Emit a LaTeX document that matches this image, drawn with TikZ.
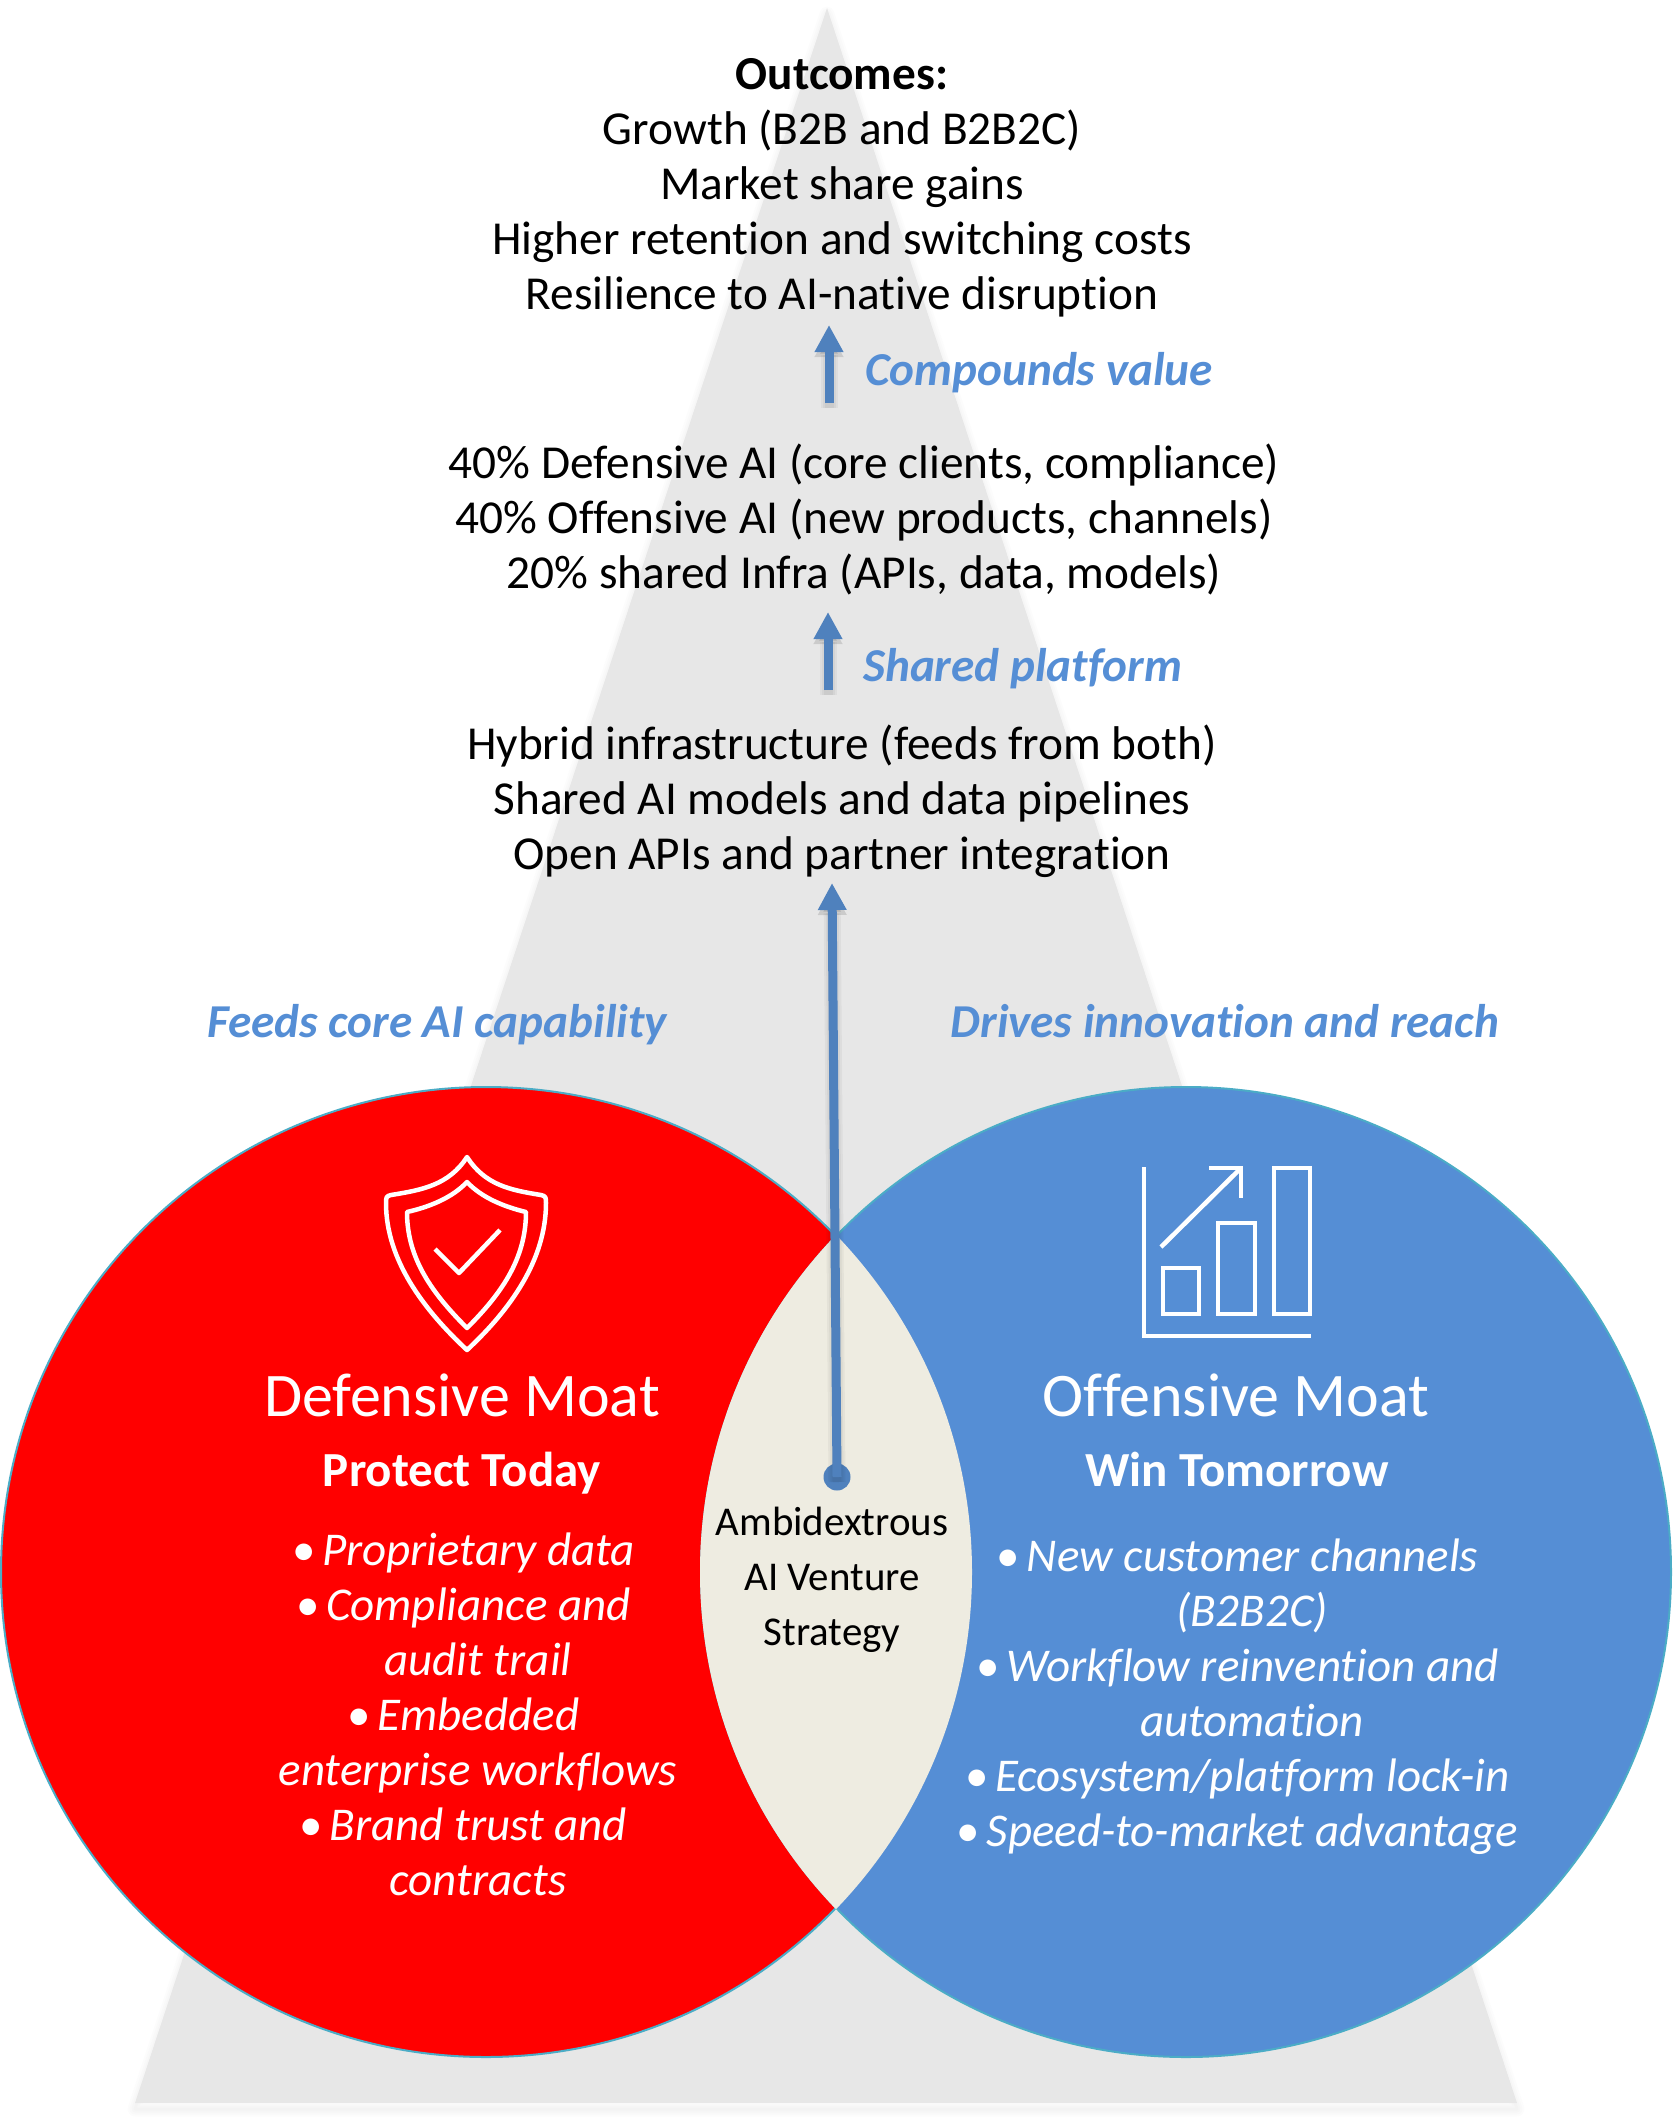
\documentclass[tikz,border=0pt]{standalone}
\usepackage{fontspec}
\setmainfont{Carlito}[Ligatures=NoCommon]
\usetikzlibrary{arrows.meta,calc}
\definecolor{pyr}{HTML}{E7E7E7}
\definecolor{moatblue}{HTML}{558ED5}
\definecolor{lens}{HTML}{EEECE1}
\definecolor{rim}{HTML}{4BACC6}
\definecolor{arrowblue}{HTML}{4F81BD}
\tikzset{
  x=1pt,y=-1pt,
  moat/.style={circle,minimum size=970pt,inner sep=0pt,draw=rim,line width=2pt},
  body/.style={anchor=base,align=center,inner sep=0pt,font=\fontsize{47.3}{55}\selectfont},
  bodysmall/.style={anchor=base,align=center,inner sep=0pt,font=\fontsize{40.9}{55}\selectfont},
  whitebody/.style={body,text=white,font=\fontsize{47}{55}\selectfont\itshape},
  title/.style={anchor=base,inner sep=0pt,text=white,font=\fontsize{62}{62}\selectfont},
  subtitle/.style={anchor=base,inner sep=0pt,text=white,font=\fontsize{49}{55}\selectfont\bfseries},
  note/.style={anchor=base,inner sep=0pt,text=moatblue,font=\fontsize{47.2}{55}\selectfont\bfseries\itshape},
  riser/.style={-{Triangle[length=27pt,width=27pt]},draw=arrowblue,line width=9pt},
  riserglow/.style={-{Triangle[length=27pt,width=27pt]},draw=black,line width=9pt,draw opacity=.04,fill opacity=.04},
  iconline/.style={draw=white,line width=4.5pt,line join=round},
}
\newcommand{\bitem}[1]{\hbox{\makebox[30pt][l]{\normalfont\upshape•}#1\kern29pt}}
\begin{document}
\begin{tikzpicture}
\path[use as bounding box] (0,0) rectangle (1673,2126);
% pyramid with soft edge
\coordinate (apex) at (827,8);
\coordinate (bl) at (135,2103);
\coordinate (br) at (1517,2103);
\foreach \w in {3,7,11,15}{
  \draw[black,opacity=.012,line width=\w pt,line join=round] ([yshift=-6pt]apex) -- ([yshift=-6pt]bl) -- ([yshift=-6pt]br) -- cycle;
}
\fill[pyr] (apex) -- (bl) -- (br) -- cycle;
% circles
\node[moat,fill=red] (left) at (486,1572) {};
\node[moat,fill=moatblue] (right) at (1186,1572) {};
\begin{scope}
  \clip (left.center) circle[radius=486pt];
  \fill[lens] (right.center) circle[radius=486pt];
\end{scope}
% shield icon
\draw[iconline] (467,1157) .. controls (485,1185) and (510,1190) .. (541,1195)
  .. controls (546,1196) and (546,1198) .. (546,1203)
  .. controls (546,1260) and (510,1310) .. (467,1350)
  .. controls (424,1310) and (386,1260) .. (386,1203)
  .. controls (386,1198) and (386,1196) .. (391,1195)
  .. controls (422,1190) and (449,1185) .. (467,1157) -- cycle;
\draw[iconline] (467,1182) .. controls (482,1198) and (505,1207) .. (526,1212)
  .. controls (526,1260) and (500,1295) .. (467,1328)
  .. controls (434,1295) and (407,1260) .. (407,1212)
  .. controls (429,1207) and (452,1198) .. (467,1182) -- cycle;
\draw[iconline] (435,1249) -- (459,1273) -- (500,1230);
% chart icon
\draw[iconline,line join=miter] (1144,1167) -- (1144,1336) -- (1311,1336);
\draw[iconline,line join=miter] (1163,1268) rectangle (1199,1314);
\draw[iconline,line join=miter] (1218,1223) rectangle (1255,1314);
\draw[iconline,line join=miter] (1274,1168) rectangle (1310,1314);
\draw[iconline,line join=miter] (1161,1247) -- (1241,1168);
\draw[iconline,line join=miter] (1209,1168) -- (1241,1168) -- (1241,1198);
% top text
\node[body] (outcomes) at (842,309) {\textbf{Outcomes:}\\Growth (B2B and B2B2C)\\Market share gains\\Higher retention and switching costs\\Resilience to AI-native disruption};
\node[body] (mix) at (864,588) {40\% Defensive AI (core clients, compliance)\\40\% Offensive AI (new products, channels)\\20\% shared Infra (APIs, data, models)};
\node[body] (infra) at (842,869) {Hybrid infrastructure (feeds from both)\\Shared AI models and data pipelines\\Open APIs and partner integration};
\node[note,anchor=base west] (compounds) at (865,385) {Compounds value};
\node[note,anchor=base west] (shared) at (863,681) {Shared platform};
\node[note] (feeds) at (437,1037) {Feeds core AI capability};
\node[note] (drives) at (1225,1037) {Drives innovation and reach};
% moats
\node[title] (deftitle) at (462,1416) {Defensive Moat};
\node[subtitle] (defsub) at (462,1486) {Protect Today};
\node[whitebody] (deflist) at (478,1895) {\bitem{Proprietary data}\\\bitem{Compliance and}\\audit trail\\\bitem{Embedded}\\enterprise workflows\\\bitem{Brand trust and}\\contracts};
\node[title] (offtitle) at (1236,1416) {Offensive Moat};
\node[subtitle] (offsub) at (1237,1486) {Win Tomorrow};
\node[whitebody] (offlist) at (1252,1846) {\bitem{New customer channels}\\(B2B2C)\\\bitem{Workflow reinvention and}\\automation\\\bitem{Ecosystem/platform lock-in}\\\bitem{Speed-to-market advantage}};
\node[bodysmall] (core) at (832,1645) {Ambidextrous\\AI Venture\\Strategy};
% arrows
\coordinate (a1tail) at (829,403);
\coordinate (a1tip) at (829,325);
\coordinate (a2tail) at (828,690);
\coordinate (a2tip) at (828,612);
\coordinate (a3tip) at (832,883);
\node[circle,fill=arrowblue,minimum size=27pt,inner sep=0pt] (dot) at (837,1477) {};
\foreach \w in {0,4,8}{
  \draw[riserglow,line width=\w pt+9pt] ([yshift=-5pt]a1tail) -- ([yshift=-5pt]a1tip);
  \draw[riserglow,line width=\w pt+9pt] ([yshift=-5pt]a2tail) -- ([yshift=-5pt]a2tip);
  \draw[riserglow,line width=\w pt+9pt] ([yshift=-5pt]dot.center) -- ([yshift=-5pt]a3tip);
}
\draw[riser] (a1tail) -- (a1tip);
\draw[riser] (a2tail) -- (a2tip);
\draw[riser] (dot.center) -- (a3tip);
\end{tikzpicture}
\end{document}
